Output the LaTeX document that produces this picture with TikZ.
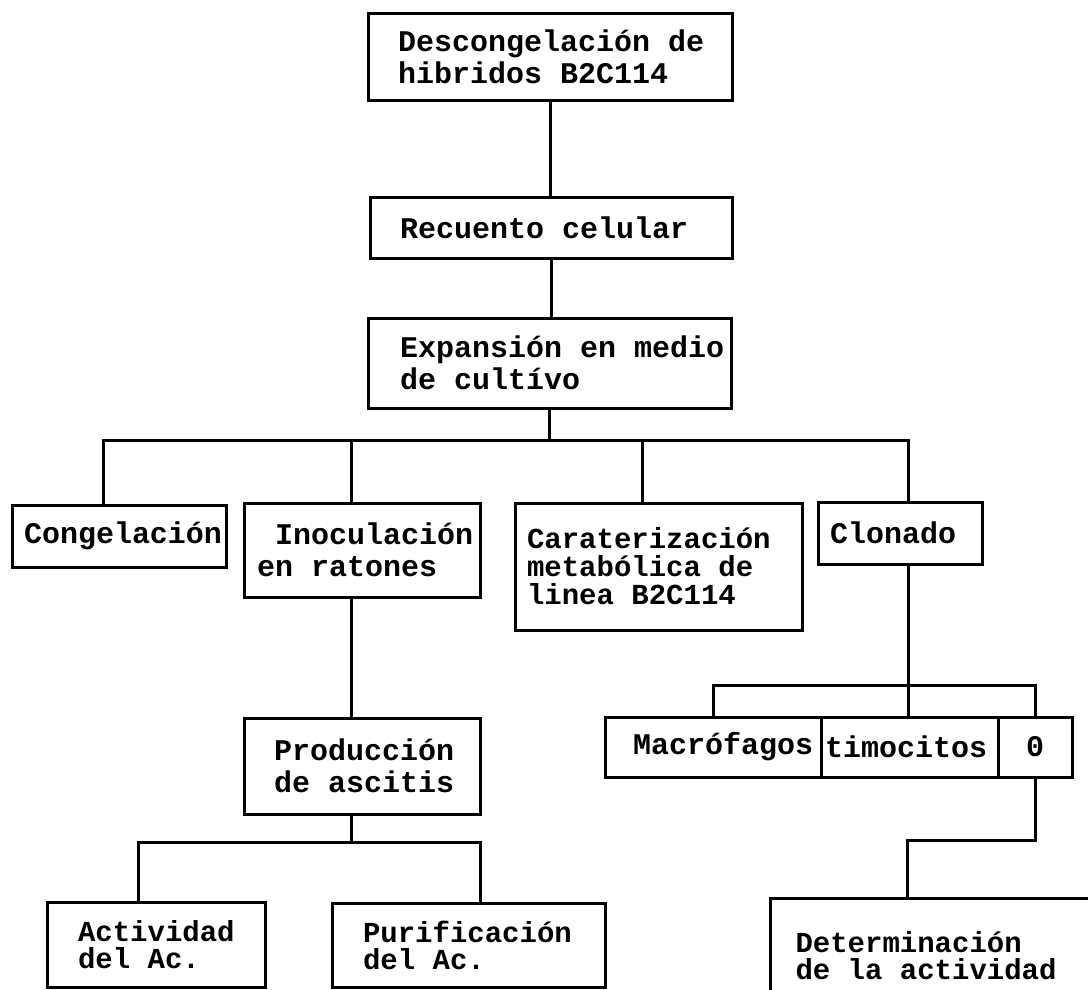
\documentclass[tikz,border=0pt]{standalone}
\usepackage{fontspec}
\newfontfamily\dm{Liberation Mono}
\newcommand\gap{\hspace*{0.6em}}
\newcommand\lne[1]{\mbox{#1}}
\begin{document}
\begin{tikzpicture}[x=1pt,y=-1pt,line width=3pt,
  box/.style={draw, rectangle, inner ysep=0pt, align=left,
    font=\dm\bfseries\fontsize{30}{32}\selectfont},
  tight/.style={font=\dm\bfseries\fontsize{29}{27}\selectfont},
  mid/.style={font=\dm\bfseries\fontsize{29}{28}\selectfont}]
\useasboundingbox (0,0) rectangle (1088,989);
\clip (0,0) rectangle (1088,989);
\fill[white] (0,0) rectangle (1088,989);

% level 1-3
\node[box, minimum width=364pt, minimum height=87pt, text width=304pt, inner xsep=30pt] (desc) at (550,56.5) {\lne{Descongelación\gap de}\\\lne{hibridos\gap B2C114}};
\node[box, minimum width=362pt, minimum height=61pt, text width=302pt, inner xsep=30pt] (rec) at (551,227.5) {\lne{Recuento\gap celular}};
\node[box, minimum width=363pt, minimum height=90pt, text width=299pt, inner xsep=32pt] (exp) at (549.5,363) {\lne{Expansión\gap en\gap medio}\\\lne{de\gap cultívo}};

% level 4
\node[box, minimum width=214pt, minimum height=62pt, text width=190pt, inner xsep=12pt] (cong) at (119,536) {\lne{Congelación}};
\node[box, minimum width=236pt, minimum height=94pt, text width=210pt, inner xsep=13pt] (inoc) at (362,550) {\lne{\gap Inoculación}\\\lne{en\gap ratones}};
\node[box, mid, minimum width=287pt, minimum height=127pt, text width=263pt, inner xsep=12pt] (cara) at (658.5,566.5) {\lne{Caraterización}\\\lne{metabólica\gap de}\\\lne{linea\gap B2C114}};
\node[box, minimum width=164pt, minimum height=62pt, text width=140pt, inner xsep=12pt] (clon) at (900,533) {\lne{Clonado}};

% clonado children
\node[box, minimum width=216pt, minimum height=60pt, text width=160pt, inner xsep=28pt] (mac) at (713,747) {\lne{Macrófagos}};
\node[box, minimum width=177pt, minimum height=60pt, text width=169pt, inner xsep=4pt] (tim) at (909.5,747) {\lne{timocitos}};
\node[box, minimum width=74pt, minimum height=60pt, inner xsep=0pt] (zero) at (1035,747) {0};
\node[box, tight, minimum width=327pt, minimum height=116pt, text width=302pt, inner xsep=25pt] (det) at (946.5,956) {\lne{Determinación}\\\lne{de\gap la\gap actividad}};

% inoculacion branch
\node[box, minimum width=236pt, minimum height=96pt, text width=176pt, inner xsep=30pt] (prod) at (362,766) {\lne{Producción}\\\lne{de\gap ascitis}};
\node[box, tight, minimum width=218pt, minimum height=85pt, text width=156pt, inner xsep=31pt] (act) at (156,944.5) {\lne{Actividad}\\\lne{del\gap Ac.}};
\node[box, tight, minimum width=273pt, minimum height=84pt, text width=211pt, inner xsep=31pt] (puri) at (468.5,945) {\lne{Purificación}\\\lne{del\gap Ac.}};

% connectors
\draw (desc.south) -- (desc.south |- rec.north);
\draw (rec.south) -- (rec.south |- exp.north);

\coordinate (j1) at (550,440);
\draw (exp.south) -- (exp.south |- j1);
\draw ([xshift=-16pt]cong.north) |- (j1) -| ([xshift=8pt]clon.north);
\draw ([xshift=-11pt]inoc.north) -- ([xshift=-11pt]inoc.north |- j1);
\draw ([xshift=-16.5pt]cara.north) -- ([xshift=-16.5pt]cara.north |- j1);

\coordinate (j2) at (908,685);
\draw ([xshift=8pt]clon.south) -- ([xshift=8pt]clon.south |- j2);
\draw (mac.north) |- (j2) -| (zero.north);
\draw ([xshift=-1.5pt]tim.north) -- ([xshift=-1.5pt]tim.north |- j2);
\coordinate (k) at (907,840);
\draw (zero.south) |- (k) -- (k |- det.north);

\draw ([xshift=-11pt]inoc.south) -- ([xshift=-11pt]prod.north);
\coordinate (j3) at (351,842);
\draw ([xshift=-11pt]prod.south) -- ([xshift=-11pt]prod.south |- j3);
\draw ([xshift=-18pt]act.north) |- (j3) -| ([xshift=11.5pt]puri.north);
\end{tikzpicture}
\end{document}
